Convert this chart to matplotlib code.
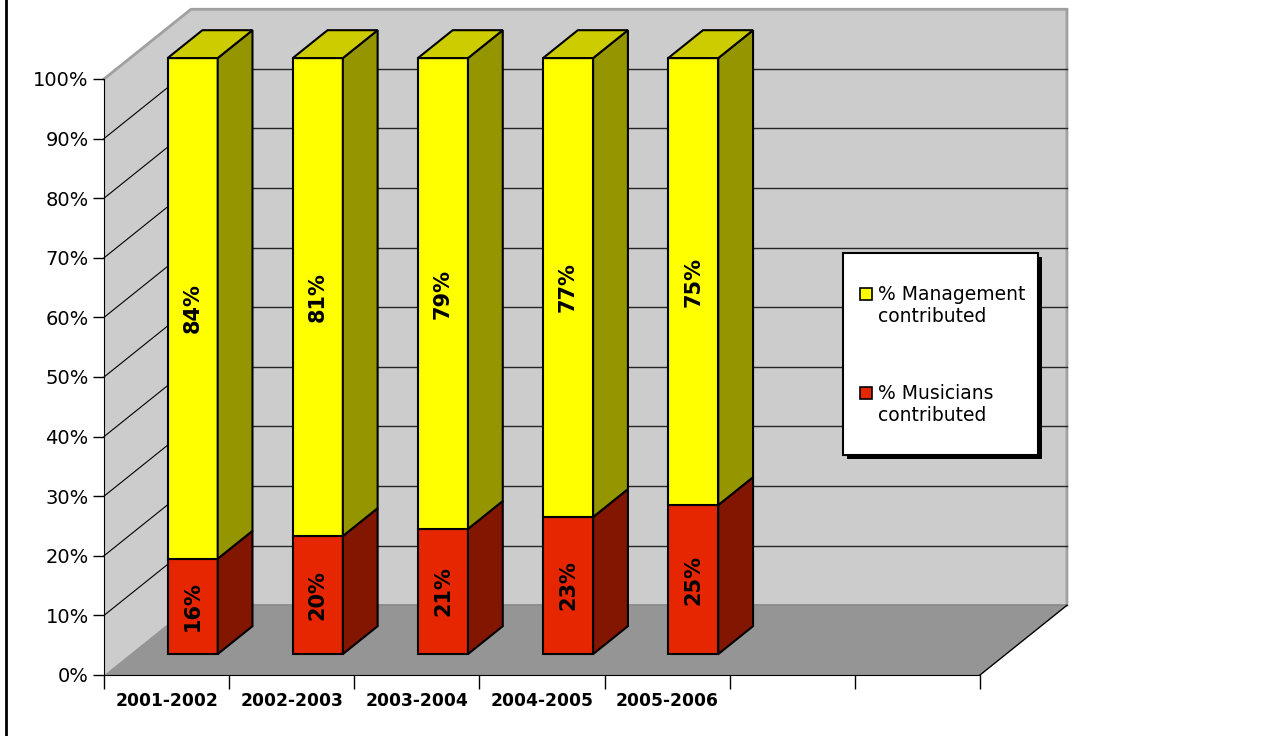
import matplotlib.pyplot as plt
from matplotlib.patches import Polygon, Rectangle
from matplotlib.lines import Line2D
import numpy as np

# data
seasons = ['2001-2002', '2002-2003', '2003-2004', '2004-2005', '2005-2006', '', '']
musicians = [16, 20, 21, 23, 25]
management = [84, 81, 79, 77, 75]
series_names = ['% Management\ncontributed', '% Musicians\ncontributed']
ytick_vals = list(range(0, 101, 10))
ytick_labels = ['%d%%' % v for v in ytick_vals]

# colours
wall_c = '#cccccc'
floor_c = '#959595'
yel_front, yel_top, yel_side = '#ffff00', '#cccc00', '#959500'
red_front, red_side = '#e62600', '#831600'

W, H = 1264, 736
fig = plt.figure(figsize=(W / 100, H / 100), dpi=100)
fig.patch.set_facecolor('white')
ax = fig.add_axes([104 / W, 61 / H, 876 / W, 596 / H])
ncat = len(seasons)
ax.set_xlim(0, ncat)
ax.set_ylim(0, 100)
ax.patch.set_visible(False)
for s in ['top', 'right']:
    ax.spines[s].set_visible(False)
ax.spines['left'].set_color('black')
ax.spines['bottom'].set_color('black')

# depth of the 3D box in data units
dx, dy = 0.695, 11.7

# walls and floor
side = Polygon([(0, 0), (0, 100), (dx, 100 + dy), (dx, dy)], closed=True,
               facecolor=wall_c, edgecolor='none', zorder=0, clip_on=False)
back = Polygon([(dx, dy), (dx, 100 + dy), (ncat + dx, 100 + dy), (ncat + dx, dy)],
               closed=True, facecolor=wall_c, edgecolor='none', zorder=0, clip_on=False)
floor = Polygon([(0, 0), (dx, dy), (ncat + dx, dy), (ncat, 0)], closed=True,
                facecolor=floor_c, edgecolor='none', zorder=0.5, clip_on=False)
for p in [side, back, floor]:
    ax.add_patch(p)
ax.plot([0, dx, ncat + dx, ncat + dx], [100, 100 + dy, 100 + dy, dy],
        color='#a0a0a0', lw=2, zorder=1, clip_on=False, solid_joinstyle='miter')
ax.plot([dx, ncat + dx], [dy, dy], color='#858585', lw=1.2, zorder=1, clip_on=False)
ax.plot([ncat, ncat + dx], [0, dy], color='black', lw=1, zorder=1, clip_on=False)

# gridlines on back wall and side wall
for v in ytick_vals[1:-1]:
    ax.plot([dx, ncat + dx], [v + dy, v + dy], color='#262626', lw=1, zorder=1, clip_on=False)
    ax.plot([0, dx], [v, v + dy], color='black', lw=0.8, zorder=1, clip_on=False)

# bars
f0, bw = 0.3, 0.4
tot = np.array(musicians) + np.array(management)
mus_pct = np.array(musicians) / tot * 100
man_pct = np.array(management) / tot * 100
base = f0 * dy
xs = np.arange(len(musicians)) + 0.5 + f0 * dx
b1 = ax.bar(xs, mus_pct, bottom=base, width=bw, color=red_front, edgecolor='black',
            linewidth=1.5, zorder=3)
b2 = ax.bar(xs, man_pct, bottom=base + mus_pct, width=bw, color=yel_front, edgecolor='black',
            linewidth=1.5, zorder=3)
for r in list(b1) + list(b2):
    r.set_clip_on(False)
ddx, ddy = bw * dx, bw * dy
for i, x in enumerate(xs):
    x1 = x + bw / 2
    x0 = x - bw / 2
    segs = [(base, mus_pct[i], red_side), (base + mus_pct[i], man_pct[i], yel_side)]
    for b, h, c in segs:
        ax.add_patch(Polygon([(x1, b), (x1 + ddx, b + ddy), (x1 + ddx, b + h + ddy), (x1, b + h)],
                             closed=True, facecolor=c, edgecolor='black', lw=1.5,
                             zorder=3, clip_on=False))
    top = base + mus_pct[i] + man_pct[i]
    ax.add_patch(Polygon([(x0, top), (x0 + ddx, top + ddy), (x1 + ddx, top + ddy), (x1, top)],
                         closed=True, facecolor=yel_top, edgecolor='black', lw=1.5,
                         zorder=3, clip_on=False))
    ax.text(x, base + mus_pct[i] / 2, '%d%%' % musicians[i], rotation=90, ha='center',
            va='center', fontsize=15, fontweight='bold', zorder=4)
    ax.text(x, base + mus_pct[i] + man_pct[i] / 2, '%d%%' % management[i], rotation=90,
            ha='center', va='center', fontsize=15, fontweight='bold', zorder=4)

# axes ticks
ax.set_yticks(ytick_vals)
ax.set_yticklabels(ytick_labels, fontsize=14)
ax.tick_params(axis='y', length=8, width=1, pad=3, colors='black')
ax.set_xticks(np.arange(ncat + 1))
ax.set_xticklabels([])
ax.tick_params(axis='x', which='major', length=10, width=1)
ax.set_xticks(np.arange(ncat) + 0.5, minor=True)
ax.set_xticklabels(seasons, minor=True, fontsize=12.3, fontweight='bold')
ax.tick_params(axis='x', which='minor', length=0, pad=12)

# legend drawn by hand
def fx(px):
    return px / W

def fy(py):
    return 1 - py / H

lx0, ly0, lx1, ly1 = 843, 253, 1038, 455
fig.patches.append(Rectangle((fx(lx0 + 4), fy(ly1 + 4)), fx(lx1 - lx0), (ly1 - ly0) / H,
                             transform=fig.transFigure, facecolor='black', edgecolor='none', zorder=5))
fig.patches.append(Rectangle((fx(lx0), fy(ly1)), fx(lx1 - lx0), (ly1 - ly0) / H,
                             transform=fig.transFigure, facecolor='white', edgecolor='black',
                             lw=1.5, zorder=6))
for name, col, ytop in [(series_names[0], yel_front, 288), (series_names[1], red_front, 387)]:
    fig.patches.append(Rectangle((fx(860), fy(ytop + 12)), fx(12), 12 / H,
                                 transform=fig.transFigure, facecolor=col, edgecolor='black',
                                 lw=1.2, zorder=7))
    for k, line in enumerate(name.split('\n')):
        fig.text(fx(878), fy(ytop + 12 + 22 * k), line, fontsize=13.5, va='baseline',
                 ha='left', zorder=8)

# chart border on the left
fig.add_artist(Line2D([fx(6), fx(6)], [0, 1], color='black', lw=2, transform=fig.transFigure))

plt.savefig('out.png', dpi=100)
